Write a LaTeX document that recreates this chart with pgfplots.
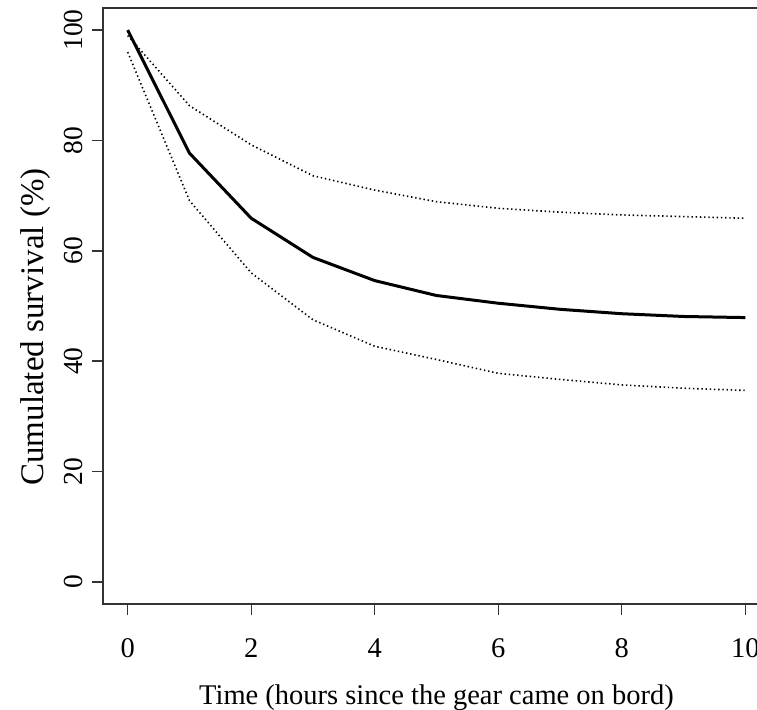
\documentclass[border=0pt]{standalone}
\usepackage{pgfplots}
\pgfplotsset{compat=1.18}
\usepackage{pgfplotstable}
\usepackage{fontspec}
\setmainfont{Liberation Serif}
\pgfplotstableread{
x y
0 100
1 77.7
2 65.9
3 58.8
4 54.6
5 51.9
6 50.5
7 49.4
8 48.6
9 48.1
10 47.9
}\mainT
\pgfplotstableread{
x y
0 99
1 86.3
2 79.2
3 73.6
4 71.0
5 68.9
6 67.7
7 67.0
8 66.5
9 66.2
10 65.9
}\upT
\pgfplotstableread{
x y
0 96
1 69.1
2 56.0
3 47.5
4 42.7
5 40.3
6 37.8
7 36.7
8 35.7
9 35.1
10 34.7
}\loT
\begin{document}
\begin{tikzpicture}
\useasboundingbox (0pt,0pt) rectangle (757pt,709pt);
\begin{axis}[
  at={(103pt,105pt)}, anchor=south west,
  scale only axis, width=667pt, height=596pt,
  xmin=-0.4, xmax=10.4, ymin=-4, ymax=104,
  xtick={0,2,...,10}, ytick={0,20,...,100},
  xtick pos=left, ytick pos=left,
  tick align=outside, major tick length=11pt,
  axis line style={line width=1.6pt, black!80},
  tick style={line width=1.4pt, black!80},
  font=\fontsize{28.5}{34}\selectfont,
  /pgf/number format/assume math mode=true,
  xticklabel style={anchor=north, yshift=-20pt},
  yticklabel style={xshift=-6pt, rotate=90, anchor=south, font=\fontsize{27.5}{33}\selectfont},
  clip=false,
]
\addplot[line width=1.6pt, dash pattern=on 1.4pt off 2.8pt, black] table {\upT};
\addplot[line width=1.6pt, dash pattern=on 1.4pt off 2.8pt, black] table {\loT};
\addplot[line width=3pt, black] table {\mainT};
\end{axis}
\node[anchor=base, font=\fontsize{28.5}{34}\selectfont] at (436.5pt,5pt) {Time (hours since the gear came on bord)};
\node[anchor=base, rotate=90, font=\fontsize{33}{40}\selectfont] at (43pt,382pt) {Cumulated survival (\%)};
\end{tikzpicture}
\end{document}
